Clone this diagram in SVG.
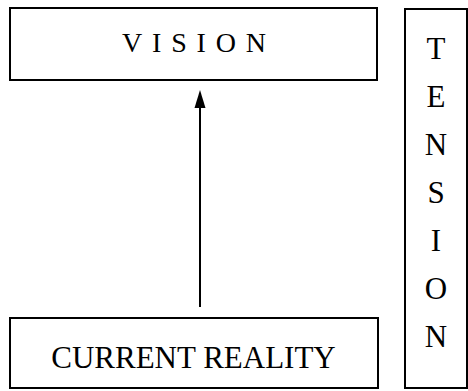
<svg xmlns="http://www.w3.org/2000/svg" width="468" height="391" viewBox="0 0 468 391">
<style>
.box{fill:#fff;stroke:#000;stroke-width:2}
.t{font-family:"Liberation Serif","Times New Roman",serif;fill:#000}
</style>
<rect width="468" height="391" fill="#fff"/>
<g id="vision">
<rect class="box" x="10" y="8" width="367" height="72"/>
<text class="t" x="122" y="52" font-size="28" letter-spacing="9.8">VISION</text>
</g>
<g id="current-reality">
<rect class="box" x="10" y="318" width="368" height="70"/>
<text class="t" x="193.5" y="368" font-size="31" text-anchor="middle">CURRENT REALITY</text>
</g>
<g id="tension">
<rect class="box" x="405" y="9" width="62" height="379"/>
<g class="t" font-size="31" text-anchor="middle">
<text x="436" y="59">T</text>
<text x="436" y="107">E</text>
<text x="436" y="155">N</text>
<text x="436" y="203">S</text>
<text x="436" y="251">I</text>
<text x="436" y="299">O</text>
<text x="436" y="347">N</text>
</g>
</g>
<g id="connectors">
<line x1="200" y1="307" x2="200" y2="104" stroke="#000" stroke-width="2"/>
<polygon points="200,90 194.5,108 205.5,108" fill="#000"/>
</g>
</svg>
